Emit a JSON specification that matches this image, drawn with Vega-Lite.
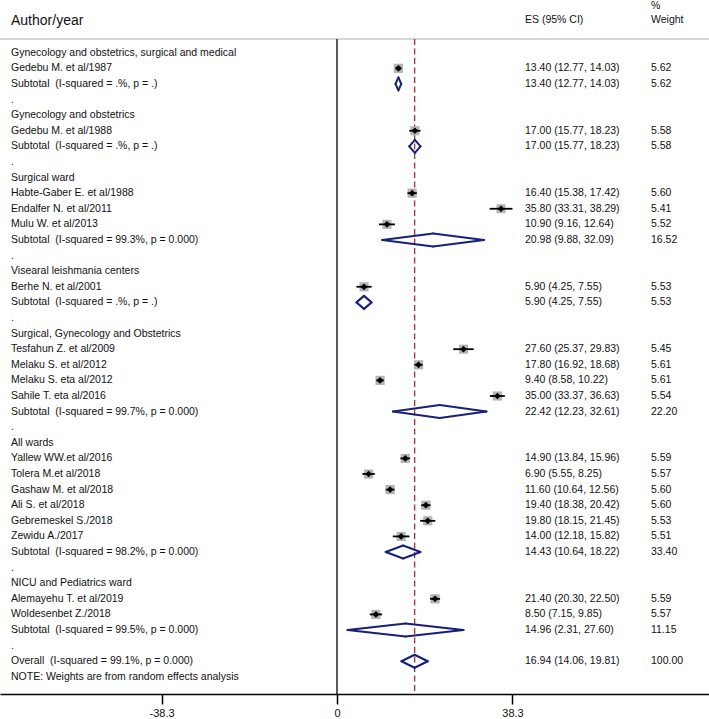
{
  "$schema": "https://vega.github.io/schema/vega-lite/v6.json",
  "width": 709,
  "height": 694,
  "autosize": {"type": "none"},
  "padding": {"top": 0, "left": 0, "right": 0, "bottom": 25},
  "background": "white",
  "config": {"view": {"stroke": null}, "text": {"font": "Liberation Sans"}},
  "datasets": {
    "one": [{"id": 1}],
    "rows": [
    {"row": 1, "kind": "group", "label": "Gynecology and obstetrics, surgical and medical"},
    {"row": 2, "kind": "study", "label": "Gedebu M. et al/1987", "es": 13.40, "lo": 12.77, "hi": 14.03, "weight": 5.62, "es_text": "13.40 (12.77, 14.03)", "w_text": "5.62"},
    {"row": 3, "kind": "subtotal", "label": "Subtotal\u00a0 (I-squared = .%, p = .)", "es": 13.40, "lo": 12.77, "hi": 14.03, "weight": 5.62, "es_text": "13.40 (12.77, 14.03)", "w_text": "5.62"},
    {"row": 4, "kind": "dot", "label": "."},
    {"row": 5, "kind": "group", "label": "Gynecology and obstetrics"},
    {"row": 6, "kind": "study", "label": "Gedebu M. et al/1988", "es": 17.00, "lo": 15.77, "hi": 18.23, "weight": 5.58, "es_text": "17.00 (15.77, 18.23)", "w_text": "5.58"},
    {"row": 7, "kind": "subtotal", "label": "Subtotal\u00a0 (I-squared = .%, p = .)", "es": 17.00, "lo": 15.77, "hi": 18.23, "weight": 5.58, "es_text": "17.00 (15.77, 18.23)", "w_text": "5.58"},
    {"row": 8, "kind": "dot", "label": "."},
    {"row": 9, "kind": "group", "label": "Surgical ward"},
    {"row": 10, "kind": "study", "label": "Habte-Gaber E. et al/1988", "es": 16.40, "lo": 15.38, "hi": 17.42, "weight": 5.60, "es_text": "16.40 (15.38, 17.42)", "w_text": "5.60"},
    {"row": 11, "kind": "study", "label": "Endalfer N. et al/2011", "es": 35.80, "lo": 33.31, "hi": 38.29, "weight": 5.41, "es_text": "35.80 (33.31, 38.29)", "w_text": "5.41"},
    {"row": 12, "kind": "study", "label": "Mulu W. et al/2013", "es": 10.90, "lo": 9.16, "hi": 12.64, "weight": 5.52, "es_text": "10.90 (9.16, 12.64)", "w_text": "5.52"},
    {"row": 13, "kind": "subtotal", "label": "Subtotal\u00a0 (I-squared = 99.3%, p = 0.000)", "es": 20.98, "lo": 9.88, "hi": 32.09, "weight": 16.52, "es_text": "20.98 (9.88, 32.09)", "w_text": "16.52"},
    {"row": 14, "kind": "dot", "label": "."},
    {"row": 15, "kind": "group", "label": "Visearal leishmania centers"},
    {"row": 16, "kind": "study", "label": "Berhe N. et al/2001", "es": 5.90, "lo": 4.25, "hi": 7.55, "weight": 5.53, "es_text": "5.90 (4.25, 7.55)", "w_text": "5.53"},
    {"row": 17, "kind": "subtotal", "label": "Subtotal\u00a0 (I-squared = .%, p = .)", "es": 5.90, "lo": 4.25, "hi": 7.55, "weight": 5.53, "es_text": "5.90 (4.25, 7.55)", "w_text": "5.53"},
    {"row": 18, "kind": "dot", "label": "."},
    {"row": 19, "kind": "group", "label": "Surgical, Gynecology and Obstetrics"},
    {"row": 20, "kind": "study", "label": "Tesfahun Z. et al/2009", "es": 27.60, "lo": 25.37, "hi": 29.83, "weight": 5.45, "es_text": "27.60 (25.37, 29.83)", "w_text": "5.45"},
    {"row": 21, "kind": "study", "label": "Melaku S. et al/2012", "es": 17.80, "lo": 16.92, "hi": 18.68, "weight": 5.61, "es_text": "17.80 (16.92, 18.68)", "w_text": "5.61"},
    {"row": 22, "kind": "study", "label": "Melaku S. eta al/2012", "es": 9.40, "lo": 8.58, "hi": 10.22, "weight": 5.61, "es_text": "9.40 (8.58, 10.22)", "w_text": "5.61"},
    {"row": 23, "kind": "study", "label": "Sahile T. eta al/2016", "es": 35.00, "lo": 33.37, "hi": 36.63, "weight": 5.54, "es_text": "35.00 (33.37, 36.63)", "w_text": "5.54"},
    {"row": 24, "kind": "subtotal", "label": "Subtotal\u00a0 (I-squared = 99.7%, p = 0.000)", "es": 22.42, "lo": 12.23, "hi": 32.61, "weight": 22.20, "es_text": "22.42 (12.23, 32.61)", "w_text": "22.20"},
    {"row": 25, "kind": "dot", "label": "."},
    {"row": 26, "kind": "group", "label": "All wards"},
    {"row": 27, "kind": "study", "label": "Yallew WW.et al/2016", "es": 14.90, "lo": 13.84, "hi": 15.96, "weight": 5.59, "es_text": "14.90 (13.84, 15.96)", "w_text": "5.59"},
    {"row": 28, "kind": "study", "label": "Tolera M.et al/2018", "es": 6.90, "lo": 5.55, "hi": 8.25, "weight": 5.57, "es_text": "6.90 (5.55, 8.25)", "w_text": "5.57"},
    {"row": 29, "kind": "study", "label": "Gashaw M. et al/2018", "es": 11.60, "lo": 10.64, "hi": 12.56, "weight": 5.60, "es_text": "11.60 (10.64, 12.56)", "w_text": "5.60"},
    {"row": 30, "kind": "study", "label": "Ali S. et al/2018", "es": 19.40, "lo": 18.38, "hi": 20.42, "weight": 5.60, "es_text": "19.40 (18.38, 20.42)", "w_text": "5.60"},
    {"row": 31, "kind": "study", "label": "Gebremeskel S./2018", "es": 19.80, "lo": 18.15, "hi": 21.45, "weight": 5.53, "es_text": "19.80 (18.15, 21.45)", "w_text": "5.53"},
    {"row": 32, "kind": "study", "label": "Zewidu A./2017", "es": 14.00, "lo": 12.18, "hi": 15.82, "weight": 5.51, "es_text": "14.00 (12.18, 15.82)", "w_text": "5.51"},
    {"row": 33, "kind": "subtotal", "label": "Subtotal\u00a0 (I-squared = 98.2%, p = 0.000)", "es": 14.43, "lo": 10.64, "hi": 18.22, "weight": 33.40, "es_text": "14.43 (10.64, 18.22)", "w_text": "33.40"},
    {"row": 34, "kind": "dot", "label": "."},
    {"row": 35, "kind": "group", "label": "NICU and Pediatrics ward"},
    {"row": 36, "kind": "study", "label": "Alemayehu T. et al/2019", "es": 21.40, "lo": 20.30, "hi": 22.50, "weight": 5.59, "es_text": "21.40 (20.30, 22.50)", "w_text": "5.59"},
    {"row": 37, "kind": "study", "label": "Woldesenbet Z./2018", "es": 8.50, "lo": 7.15, "hi": 9.85, "weight": 5.57, "es_text": "8.50 (7.15, 9.85)", "w_text": "5.57"},
    {"row": 38, "kind": "subtotal", "label": "Subtotal\u00a0 (I-squared = 99.5%, p = 0.000)", "es": 14.96, "lo": 2.31, "hi": 27.60, "weight": 11.15, "es_text": "14.96 (2.31, 27.60)", "w_text": "11.15"},
    {"row": 39, "kind": "dot", "label": "."},
    {"row": 40, "kind": "overall", "label": "Overall\u00a0 (I-squared = 99.1%, p = 0.000)", "es": 16.94, "lo": 14.06, "hi": 19.81, "weight": 100.00, "es_text": "16.94 (14.06, 19.81)", "w_text": "100.00"},
    {"row": 41, "kind": "note", "label": "NOTE: Weights are from random effects analysis"}
    ]
  },
  "data": {"name": "rows"},
  "layer": [
    {
      "data": {"name": "one"},
      "mark": {"type": "rule", "color": "#c8c8c8", "strokeWidth": 1.5},
      "encoding": {
        "y": {"datum": 0.12, "type": "quantitative", "scale": {"domain": [-2.38, 42.1], "reverse": true, "nice": false, "zero": false}, "axis": null}
      }
    },
    {
      "data": {"name": "one"},
      "mark": {"type": "rule", "color": "black", "strokeWidth": 1.3},
      "encoding": {
        "x": {"datum": 0, "type": "quantitative", "title": null,
              "scale": {"domain": [-73.55, 81.19], "nice": false, "zero": false},
              "axis": {"values": [-38.3, 0, 38.3], "labelExpr": "datum.value == 0 ? '0' : (datum.value < 0 ? '-38.3' : '38.3')", "tickSize": 10, "labelPadding": 3, "labelFontSize": 11, "labelFont": "Liberation Sans", "labelColor": "#111", "domainColor": "black", "domainWidth": 1.5, "tickColor": "black", "tickWidth": 1.5, "grid": false, "labelFlush": false, "title": null}},
        "y": {"datum": 0.12, "type": "quantitative", "axis": null},
        "y2": {"datum": 42.1}
      }
    },
    {
      "transform": [{"filter": "datum.kind == 'overall'"}],
      "mark": {"type": "rule", "color": "#a03a42", "strokeWidth": 1.4, "strokeDash": [6, 3.5]},
      "encoding": {
        "x": {"field": "es", "type": "quantitative", "title": null},
        "y": {"datum": 0.12, "type": "quantitative", "axis": null},
        "y2": {"datum": 42.1}
      }
    },
    {
      "transform": [{"filter": "datum.kind == 'study'"}],
      "mark": {"type": "square", "color": "#b4b4b4", "opacity": 1, "filled": true},
      "encoding": {
        "x": {"field": "es", "type": "quantitative", "title": null},
        "y": {"field": "row", "type": "quantitative", "axis": null},
        "size": {"field": "weight", "type": "quantitative", "scale": {"type": "linear", "domain": [0, 5.62], "range": [0, 85]}, "legend": null}
      }
    },
    {
      "transform": [{"filter": "datum.kind == 'study'"}],
      "mark": {"type": "rule", "color": "black", "strokeWidth": 1.8},
      "encoding": {
        "x": {"field": "lo", "type": "quantitative", "title": null},
        "x2": {"field": "hi"},
        "y": {"field": "row", "type": "quantitative", "axis": null}
      }
    },
    {
      "transform": [{"filter": "datum.kind == 'study'"}],
      "mark": {"type": "point", "shape": "diamond", "filled": true, "color": "black", "size": 45, "opacity": 1},
      "encoding": {
        "x": {"field": "es", "type": "quantitative", "title": null},
        "y": {"field": "row", "type": "quantitative", "axis": null}
      }
    },
    {
      "transform": [{"filter": "datum.kind == 'subtotal' || datum.kind == 'overall'"}],
      "mark": {"type": "rule", "color": "#16207a", "strokeWidth": 2, "strokeCap": "round", "y2Offset": -6.5},
      "encoding": {
        "x": {"field": "lo", "type": "quantitative", "title": null},
        "x2": {"field": "es"},
        "y": {"field": "row", "type": "quantitative", "axis": null},
        "y2": {"field": "row"}
      }
    },
    {
      "transform": [{"filter": "datum.kind == 'subtotal' || datum.kind == 'overall'"}],
      "mark": {"type": "rule", "color": "#16207a", "strokeWidth": 2, "strokeCap": "round", "yOffset": -6.5},
      "encoding": {
        "x": {"field": "es", "type": "quantitative", "title": null},
        "x2": {"field": "hi"},
        "y": {"field": "row", "type": "quantitative", "axis": null},
        "y2": {"field": "row"}
      }
    },
    {
      "transform": [{"filter": "datum.kind == 'subtotal' || datum.kind == 'overall'"}],
      "mark": {"type": "rule", "color": "#16207a", "strokeWidth": 2, "strokeCap": "round", "y2Offset": 6.5},
      "encoding": {
        "x": {"field": "hi", "type": "quantitative", "title": null},
        "x2": {"field": "es"},
        "y": {"field": "row", "type": "quantitative", "axis": null},
        "y2": {"field": "row"}
      }
    },
    {
      "transform": [{"filter": "datum.kind == 'subtotal' || datum.kind == 'overall'"}],
      "mark": {"type": "rule", "color": "#16207a", "strokeWidth": 2, "strokeCap": "round", "yOffset": 6.5},
      "encoding": {
        "x": {"field": "es", "type": "quantitative", "title": null},
        "x2": {"field": "lo"},
        "y": {"field": "row", "type": "quantitative", "axis": null},
        "y2": {"field": "row"}
      }
    },
    {
      "mark": {"type": "text", "align": "left", "baseline": "middle", "fontSize": 10.5, "color": "#111"},
      "encoding": {
        "x": {"datum": -71.15, "type": "quantitative", "title": null},
        "y": {"field": "row", "type": "quantitative", "axis": null},
        "text": {"field": "label"}
      }
    },
    {
      "transform": [{"filter": "isValid(datum.es_text)"}],
      "mark": {"type": "text", "align": "left", "baseline": "middle", "fontSize": 10.5, "color": "#111"},
      "encoding": {
        "x": {"datum": 41.03, "type": "quantitative", "title": null},
        "y": {"field": "row", "type": "quantitative", "axis": null},
        "text": {"field": "es_text"}
      }
    },
    {
      "transform": [{"filter": "isValid(datum.w_text)"}],
      "mark": {"type": "text", "align": "left", "baseline": "middle", "fontSize": 10.5, "color": "#111"},
      "encoding": {
        "x": {"datum": 68.53, "type": "quantitative", "title": null},
        "y": {"field": "row", "type": "quantitative", "axis": null},
        "text": {"field": "w_text"}
      }
    },
    {
      "data": {"name": "one"},
      "mark": {"type": "text", "align": "left", "baseline": "middle", "fontSize": 14, "color": "#111", "text": "Author/year"},
      "encoding": {
        "x": {"datum": -71.15, "type": "quantitative", "title": null},
        "y": {"datum": -1.03, "type": "quantitative", "axis": null}
      }
    },
    {
      "data": {"name": "one"},
      "mark": {"type": "text", "align": "left", "baseline": "middle", "fontSize": 10.5, "color": "#111", "text": "ES (95% CI)"},
      "encoding": {
        "x": {"datum": 41.03, "type": "quantitative", "title": null},
        "y": {"datum": -1.1, "type": "quantitative", "axis": null}
      }
    },
    {
      "data": {"name": "one"},
      "mark": {"type": "text", "align": "left", "baseline": "middle", "fontSize": 10.5, "color": "#111", "text": "%"},
      "encoding": {
        "x": {"datum": 68.53, "type": "quantitative", "title": null},
        "y": {"datum": -1.98, "type": "quantitative", "axis": null}
      }
    },
    {
      "data": {"name": "one"},
      "mark": {"type": "text", "align": "left", "baseline": "middle", "fontSize": 10.5, "color": "#111", "text": "Weight"},
      "encoding": {
        "x": {"datum": 68.53, "type": "quantitative", "title": null},
        "y": {"datum": -1.1, "type": "quantitative", "axis": null}
      }
    }
  ]
}
